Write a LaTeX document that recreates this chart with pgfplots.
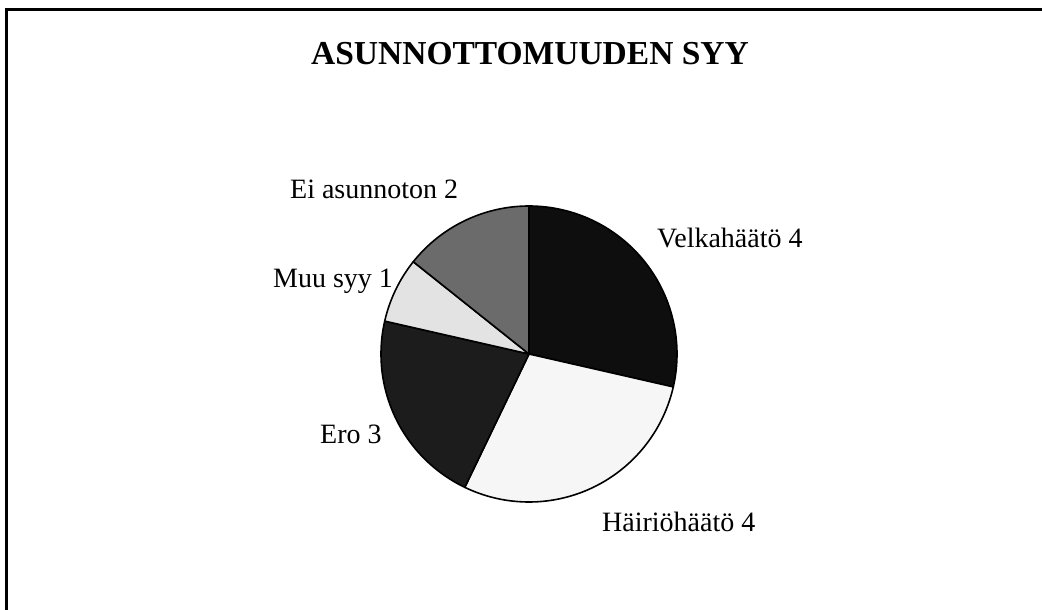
\documentclass[border=0pt]{standalone}
\usepackage{pgfplots}
\usepackage{pgfplotstable}
\pgfplotsset{compat=1.18}
\usepackage{fontspec}
\setmainfont{Liberation Serif}

\definecolor{slice0}{HTML}{0E0E0E}
\definecolor{slice1}{HTML}{F6F6F6}
\definecolor{slice2}{HTML}{1C1C1C}
\definecolor{slice3}{HTML}{E3E3E3}
\definecolor{slice4}{HTML}{6B6B6B}

\pgfplotstableread[col sep=comma]{
label,value
Velkahäätö,4
Häiriöhäätö,4
Ero,3
Muu syy,1
Ei asunnoton,2
}\piedata

\begin{document}
\begin{tikzpicture}
\begin{axis}[
  name=ax,
  width=1042pt, height=610pt, scale only axis,
  xmin=0, xmax=1042, ymin=0, ymax=610, y dir=reverse,
  hide axis, clip=false,
]
% frame (top and left edges)
\addplot[black, line width=3pt] coordinates {(6,610) (6,10) (1042,10)};

% total
\def\total{0}
\pgfplotsforeachungrouped \i in {0,...,4}{%
  \pgfplotstablegetelem{\i}{value}\of\piedata
  \pgfmathsetmacro\newtotal{\total+\pgfplotsretval}%
  \global\let\total\newtotal
}
\gdef\start{90}
\pgfplotsforeachungrouped \i in {0,...,4}{%
  \pgfplotstablegetelem{\i}{value}\of\piedata
  \pgfmathsetmacro\stop{\start-\pgfplotsretval/\total*360}%
  \edef\tmp{\noexpand\addplot[fill=slice\i, draw=black, line width=1.6pt, line join=round,
     domain=\stop:\start, samples=80, variable=\noexpand\t]
     ({529+148*cos(\noexpand\t)}, {354-148*sin(\noexpand\t)}) -- (axis cs:529,354) -- cycle;}%
  \tmp
  \global\let\start\stop
}

\node[anchor=base, font=\fontsize{33.5}{38}\selectfont\bfseries] at (axis cs:530,65) {ASUNNOTTOMUUDEN SYY};
\node[anchor=base west, inner sep=0pt, font=\fontsize{28}{32}\selectfont] at (axis cs:657,247) {Velkahäätö 4};
\node[anchor=base west, inner sep=0pt, font=\fontsize{28}{32}\selectfont] at (axis cs:602,531) {Häiriöhäätö 4};
\node[anchor=base west, inner sep=0pt, font=\fontsize{28}{32}\selectfont] at (axis cs:320,443) {Ero 3};
\node[anchor=base west, inner sep=0pt, font=\fontsize{28}{32}\selectfont] at (axis cs:273,287) {Muu syy 1};
\node[anchor=base west, inner sep=0pt, font=\fontsize{28}{32}\selectfont] at (axis cs:290,198) {Ei asunnoton 2};
\end{axis}
\pgfresetboundingbox
\path[use as bounding box] (ax.south west) rectangle (ax.north east);
\end{tikzpicture}
\end{document}
